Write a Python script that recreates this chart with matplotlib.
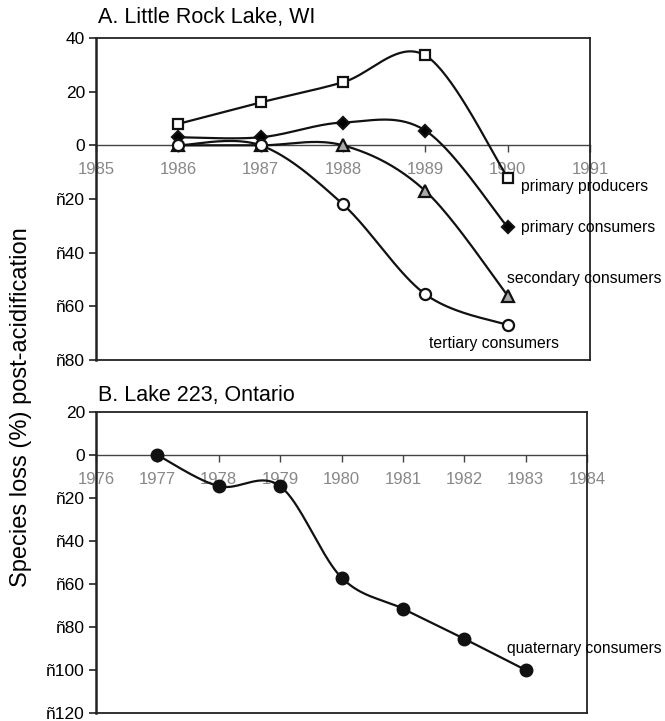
import numpy as np
import matplotlib
matplotlib.use("Agg")
import matplotlib.pyplot as plt

plt.rcParams['font.family'] = ['Liberation Sans', 'DejaVu Sans']

# Panel A: Little Rock Lake, WI
years_a = [1986, 1987, 1988, 1989, 1990]
producers = [8, 16, 23.5, 33.5, -12]
primary = [3, 3, 8.5, 5.5, -30.5]
secondary = [0, 0, 0, -17, -56]
tertiary = [0, 0, -22, -55.5, -67]
ticks_a = [1985, 1986, 1987, 1988, 1989, 1990, 1991]
yticks_a = [40, 20, 0, -20, -40, -60, -80]

# Panel B: Lake 223, Ontario
years_b = [1977, 1978, 1979, 1980, 1981, 1982, 1983]
quaternary = [0, -14.5, -14.5, -57, -71.5, -85.5, -100]
ticks_b = [1976, 1977, 1978, 1979, 1980, 1981, 1982, 1983, 1984]
yticks_b = [20, 0, -20, -40, -60, -80, -100, -120]


def ylab(v):
    return str(v) if v >= 0 else "ñ" + str(-v)


def smooth(ax, x, y, n=40):
    # Excel-like smoothed line: cubic bezier, catmull-rom control points
    P = ax.transData.transform(np.column_stack([x, y]))
    out = []
    m = len(P)
    for i in range(m - 1):
        p0 = P[max(i - 1, 0)]
        p1 = P[i]
        p2 = P[i + 1]
        p3 = P[min(i + 2, m - 1)]
        c1 = p1 + (p2 - p0) / 6
        c2 = p2 - (p3 - p1) / 6
        t = np.linspace(0, 1, n)[:, None]
        seg = (1 - t) ** 3 * p1 + 3 * (1 - t) ** 2 * t * c1 + 3 * (1 - t) * t ** 2 * c2 + t ** 3 * p2
        out.append(seg)
    pts = ax.transData.inverted().transform(np.vstack(out))
    return pts[:, 0], pts[:, 1]


def setup(ax, xlim, ylim, xt, yt):
    ax.set_xlim(*xlim)
    ax.set_ylim(*ylim)
    ax.set_xticks([])
    ax.set_yticks(yt)
    ax.set_yticklabels([ylab(v) for v in yt], fontsize=12.5)
    ax.tick_params(axis='y', direction='out', length=5, width=1.2, color='#222222', pad=3)
    for s in ax.spines.values():
        s.set_color('#222222')
        s.set_linewidth(1.3)
    ax.spines['left'].set_linewidth(1.8)
    frac = (0 - ylim[0]) / (ylim[1] - ylim[0])
    sec = ax.secondary_xaxis(frac)
    sec.xaxis.set_ticks_position('bottom')
    sec.xaxis.set_label_position('bottom')
    sec.set_xticks(xt)
    sec.set_xticklabels([str(v) for v in xt], fontsize=12, color='#888888')
    sec.tick_params(direction='out', length=5, width=1.0, color='#444444', pad=7)
    for k in ('top', 'left', 'right'):
        sec.spines[k].set_visible(False)
    sec.spines['bottom'].set_visible(True)
    sec.spines['bottom'].set_color('#444444')
    sec.spines['bottom'].set_linewidth(1.0)
    return sec


fig = plt.figure(figsize=(6.65, 7.21), dpi=100)

# ---- panel A
axA = fig.add_axes([96 / 665, 1 - 360 / 721, 494 / 665, 322 / 721])
setup(axA, (1985, 1991), (-80, 40), ticks_a, yticks_a)

series = [
    (producers, 's', 'white', 7),
    (primary, 'D', 'black', 6.5),
    (secondary, '^', '#aaaaaa', 8),
    (tertiary, 'o', 'white', 8),
]
for vals, mk, fc, ms in series:
    xs, ys = smooth(axA, years_a, vals)
    axA.plot(xs, ys, color='#111111', lw=1.6, zorder=3, clip_on=False)
    axA.plot(years_a, vals, ls='none', marker=mk, mfc=fc, mec='#111111',
             mew=1.6, ms=ms, zorder=4, clip_on=False)

axA.text(0.005, 1.03, "A. Little Rock Lake, WI", transform=axA.transAxes,
         fontsize=15.5, ha='left', va='bottom')
axA.text(1990.16, producers[-1] - 3.5, "primary producers", fontsize=11.3, va='center')
axA.text(1990.16, primary[-1], "primary consumers", fontsize=11.3, va='center')
axA.text(1989.99, secondary[-1] + 6.5, "secondary consumers", fontsize=11.3, va='center')
axA.text(1989.05, tertiary[-1] - 7, "tertiary consumers", fontsize=11.3, va='center')

# ---- panel B
axB = fig.add_axes([96 / 665, 1 - 713 / 721, 491 / 665, 301 / 721])
setup(axB, (1976, 1984), (-120, 20), ticks_b, yticks_b)
xs, ys = smooth(axB, years_b, quaternary)
axB.plot(xs, ys, color='#111111', lw=1.6, zorder=3)
axB.plot(years_b, quaternary, ls='none', marker='o', mfc='#111111', mec='#111111',
         ms=9, zorder=4)
axB.text(0.005, 1.02, "B. Lake 223, Ontario", transform=axB.transAxes,
         fontsize=15.5, ha='left', va='bottom')
axB.text(1982.7, quaternary[-1] + 10, "quaternary consumers", fontsize=11.2, va='center')

fig.text(0.031, 0.4355, "Species loss (%) post-acidification", rotation=90,
         fontsize=17, ha='center', va='center')

fig.savefig("out.png", dpi=100)
